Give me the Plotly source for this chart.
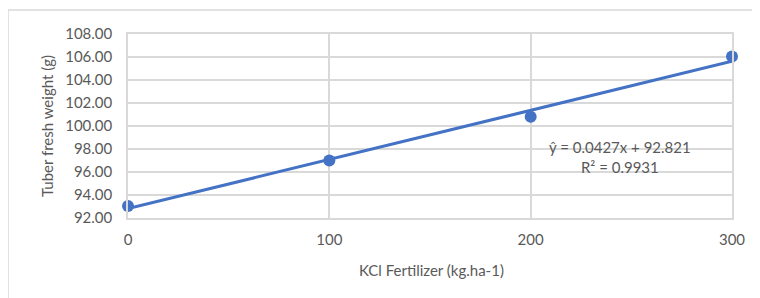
import plotly.graph_objects as go

kcl_dose = [0, 100, 200, 300]
tuber_weight = [93.05, 97.0, 100.8, 106.05]
trend_slope = 0.0427
trend_intercept = 92.821
r_squared = 0.9931
y_ticks = [92, 94, 96, 98, 100, 102, 104, 106, 108]
x_ticks = [0, 100, 200, 300]

blue = "#4472C4"
grid = "#d9d9d9"
txt = "#595959"
font_family = "Lato, 'Open Sans', sans-serif"
fs = 15

W, H = 760, 298
OFF = 8  # page body margin offset
L, T = 128 - OFF, 34 - OFF
R = W - (732 - OFF)
B = H - (218 - OFF)
pw, ph = W - L - R, H - T - B

def px_x(p):
    return (p - OFF - L) / pw

def px_y(p):
    return (H - B - (p - OFF)) / ph

trend_x = [kcl_dose[0], kcl_dose[-1]]
trend_y = [trend_intercept + trend_slope * x for x in trend_x]

fig = go.Figure()
fig.add_trace(go.Scatter(x=trend_x, y=trend_y, mode="lines",
                         line=dict(color=blue, width=3), showlegend=False,
                         hoverinfo="skip", cliponaxis=False))
fig.add_trace(go.Scatter(x=kcl_dose, y=tuber_weight, mode="markers",
                         marker=dict(color=blue, size=12), showlegend=False,
                         cliponaxis=False))

fig.add_annotation(x=px_x(620), y=px_y(157), xref="paper", yref="paper",
                   xanchor="center", yanchor="middle",
                   text=f"ŷ = {trend_slope}x + {trend_intercept}<br>R² = {r_squared}",
                   showarrow=False, align="center",
                   font=dict(family=font_family, size=fs, color=txt))

fig.add_annotation(x=px_x(47), y=px_y(126), xref="paper", yref="paper",
                   xanchor="center", yanchor="middle", textangle=-90,
                   text="Tuber fresh weight (g)", showarrow=False,
                   font=dict(family=font_family, size=fs, color=txt))

fig.add_annotation(x=px_x(431), y=px_y(270), xref="paper", yref="paper",
                   xanchor="center", yanchor="middle",
                   text="KCl Fertilizer (kg.ha-1)", showarrow=False,
                   font=dict(family=font_family, size=fs, color=txt))

fig.add_shape(type="rect", xref="paper", yref="paper",
              x0=px_x(8), x1=px_x(790), y0=px_y(330), y1=px_y(10),
              line=dict(color=grid, width=1.5), fillcolor="rgba(0,0,0,0)",
              layer="below")

fig.update_layout(
    width=W, height=H,
    margin=dict(l=L, r=R, t=T, b=B),
    paper_bgcolor="white", plot_bgcolor="white",
    font=dict(family=font_family, size=fs, color=txt),
    xaxis=dict(range=[0, 300], tickvals=x_ticks, showgrid=True, gridcolor=grid,
               gridwidth=1.5, zeroline=False, showline=True, linecolor=grid,
               linewidth=1.5, mirror=True, ticks="", ticklabelstandoff=7,
               automargin=False),
    yaxis=dict(range=[92, 108], tickvals=y_ticks, tickformat=".2f", showgrid=True,
               gridcolor=grid, gridwidth=1.5, zeroline=False, showline=True,
               linecolor=grid, linewidth=1.5, mirror=True, ticks="",
               ticklabelstandoff=11, automargin=False),
)

fig.write_html("out.html")
